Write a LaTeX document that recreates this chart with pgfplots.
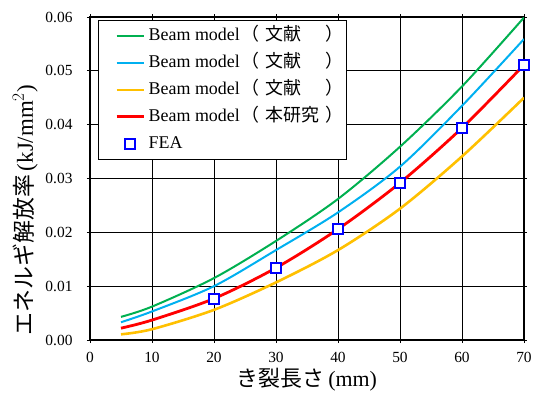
\documentclass[border=0pt]{standalone}
\usepackage{fontspec}
\setmainfont{Liberation Serif}
\newfontfamily\jp{Noto Sans CJK JP}
\usepackage{pgfplots}
\pgfplotsset{compat=1.18}
\definecolor{cgreen}{RGB}{0,176,80}
\definecolor{cblue}{RGB}{0,176,240}
\definecolor{cyellow}{RGB}{255,192,0}
\definecolor{cred}{RGB}{255,0,0}
\definecolor{cfea}{RGB}{0,0,255}
\pgfplotsset{
  linelegend/.style={legend image code/.code={\path[draw=none,fill=none] (0bp,0bp) -- (47bp,0bp); \draw[##1] (17bp,0bp) -- (44bp,0bp);}},
  marklegend/.style={legend image code/.code={\path[draw=none,fill=none] (0bp,0bp) -- (47bp,0bp); \draw[##1] plot coordinates {(30.5bp,0bp)};}},
}
\newcommand{\bm}[1]{Beam model{\jp\hspace{1.5bp}（\hspace{6bp}#1\hspace{6bp}）}}
\begin{document}
\begin{tikzpicture}
\useasboundingbox (-90bp,-56bp) rectangle (444bp,340bp);
\begin{axis}[
  at={(0,0)}, anchor=south west,
  scale only axis, width=434bp, height=323bp,
  xmin=0, xmax=70, ymin=0, ymax=0.06,
  xtick={0,10,20,30,40,50,60,70},
  ytick={0,0.01,0.02,0.03,0.04,0.05,0.06},
  scaled y ticks=false,
  yticklabel style={/pgf/number format/.cd, fixed, fixed zerofill, precision=2, /tikz/.cd, xshift=-11bp},
  xticklabel style={yshift=-6bp},
  /pgf/number format/assume math mode=true,
  ticklabel style={font=\fontsize{15.5}{16}\selectfont},
  grid=major,
  major grid style={black, line width=0.8bp},
  axis line style={black, line width=1.8bp},
  tick style={black, line width=0.8bp},
  tick align=center, major tick length=6bp,
  xlabel={{\jp き裂長さ}\,(mm)},
  xlabel style={font=\fontsize{22}{24}\selectfont, at={(axis description cs:0.5,0)}, anchor=north, yshift=-28bp, inner sep=0pt},
  ylabel={{\jp エネルギ解放率}\,(kJ/mm$^{2}$)},
  ylabel style={font=\fontsize{23}{25}\selectfont, at={(axis description cs:0,0.402)}, anchor=south, yshift=52bp, inner sep=0pt},
  legend style={at={(axis description cs:0.018,0.991)}, anchor=north west,
    draw=black, line width=0.8bp, fill=white, font=\fontsize{18}{19}\selectfont,
    inner xsep=1.5bp, inner ysep=5bp, row sep=6bp,
    nodes={inner sep=2bp, text height=13bp, text depth=4bp}},
  legend cell align=left,
  linelegend,
]
\addplot[cgreen, line width=2bp, smooth] coordinates {(5,0.0043) (10,0.0062) (20,0.0115) (30,0.0184) (40,0.0262) (50,0.0359) (60,0.0471) (70,0.0599)};
\addlegendentry{\bm{文献\hspace{1em}}}
\addplot[cblue, line width=2bp, smooth] coordinates {(5,0.0033) (10,0.0053) (20,0.0100) (30,0.0167) (40,0.0237) (50,0.0322) (60,0.0435) (70,0.0559)};
\addlegendentry{\bm{文献\hspace{1em}}}
\addplot[cyellow, line width=2.6bp, smooth] coordinates {(5,0.00105) (10,0.0020) (20,0.0056) (30,0.0107) (40,0.0167) (50,0.0244) (60,0.0341) (70,0.0450)};
\addlegendentry{\bm{文献\hspace{1em}}}
\addplot[cred, line width=2.8bp, smooth] coordinates {(5,0.0022) (10,0.0037) (20,0.0077) (30,0.0134) (40,0.0206) (50,0.0292) (60,0.0394) (70,0.0511)};
\addlegendentry{\bm{本研究}}
\addplot[cfea, only marks, mark=square*, mark size=5bp, mark options={line width=2bp, fill=white}, marklegend] coordinates {(20,0.0077) (30,0.0134) (40,0.0206) (50,0.0292) (60,0.0394) (70,0.0511)};
\addlegendentry{FEA}
\end{axis}
\end{tikzpicture}
\end{document}
